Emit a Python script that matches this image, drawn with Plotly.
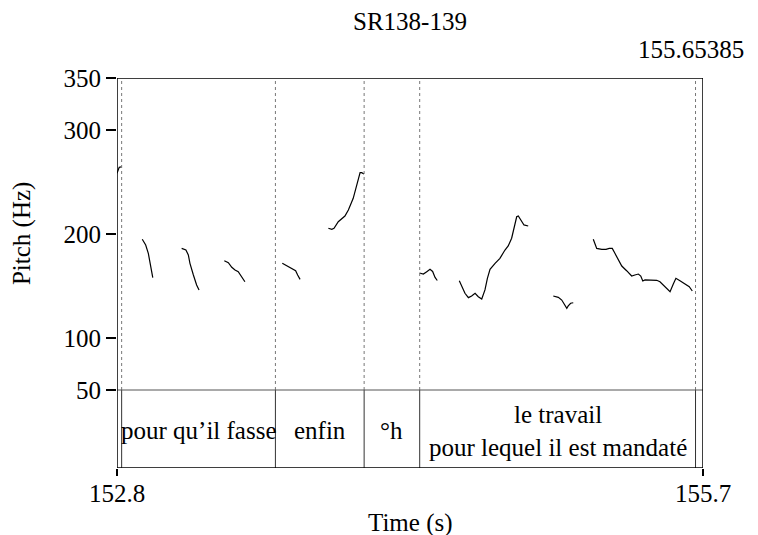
import plotly.graph_objects as go

# ---------------- data ----------------
title = "SR138-139"
x_range = [152.8, 155.7]
x_tick_vals = [152.8, 155.7]
x_tick_text = ["152.8", "155.7"]
y_tick_vals = [50, 100, 200, 300, 350]
y_tick_text = ["50", "100", "200", "300", "350"]
end_marker_label = "155.65385"

# tier boundaries (s)
boundaries = [152.823, 153.584, 154.023, 154.298, 155.663]
tier_labels = ["pour qu’il fasse", "enfin", "°h", "le travail<br>pour lequel il est mandaté"]

# pitch segments (time s, pitch Hz)
seg1_t = [152.800, 152.811, 152.823]
seg1_hz = [258.4, 264.1, 264.7]

seg2_t = [152.925, 152.942, 152.955, 152.963, 152.972, 152.977]
seg2_hz = [194.9, 189.4, 181.4, 173.4, 165.4, 158.0]

seg3_t = [153.120, 153.141, 153.153, 153.161, 153.178, 153.194, 153.206]
seg3_hz = [186.2, 184.6, 179.8, 171.8, 160.6, 151.0, 146.2]

seg4_t = [153.331, 153.351, 153.368, 153.384, 153.400, 153.417, 153.433]
seg4_hz = [174.3, 172.4, 168.0, 165.4, 163.8, 159.0, 154.1]

seg5_t = [153.618, 153.640, 153.665, 153.684, 153.694, 153.706]
seg5_hz = [171.8, 169.2, 167.0, 164.7, 160.6, 156.4]

seg6_t = [153.846, 153.863, 153.874, 153.895, 153.928, 153.945, 153.969, 153.986, 154.003, 154.011, 154.022]
seg6_hz = [205.5, 204.5, 205.5, 211.8, 217.3, 223.1, 234.3, 245.5, 259.0, 259.0, 257.7]

seg7_t = [154.297, 154.316, 154.333, 154.349, 154.362, 154.374, 154.385]
seg7_hz = [162.5, 161.5, 163.8, 166.0, 164.0, 158.2, 155.3]

seg8_t = [154.494, 154.506, 154.522, 154.539, 154.555, 154.572, 154.588, 154.605, 154.621, 154.633,
          154.646, 154.671, 154.695, 154.720, 154.736, 154.753, 154.766, 154.778, 154.786, 154.799,
          154.814, 154.835]
seg8_hz = [155.1, 150.0, 143.0, 138.8, 140.4, 143.0, 139.7, 137.5, 146.2, 157.4,
           166.0, 171.8, 176.6, 184.6, 188.5, 195.9, 207.0, 216.6, 217.3, 213.5,
           208.7, 207.7]

seg9_t = [154.959, 154.984, 155.001, 155.017, 155.026, 155.033, 155.045, 155.058]
seg9_hz = [140.4, 139.1, 136.5, 131.7, 128.6, 130.8, 133.4, 133.9]

seg10_t = [155.157, 155.166, 155.174, 155.199, 155.220, 155.236, 155.251, 155.264, 155.281, 155.298,
           155.322, 155.347, 155.363, 155.380, 155.392, 155.402, 155.413, 155.438, 155.471, 155.487,
           155.512, 155.537, 155.553, 155.566, 155.586, 155.611, 155.632, 155.647]
seg10_hz = [194.9, 189.4, 186.2, 185.3, 185.3, 186.2, 186.2, 181.4, 175.0, 169.2,
            164.7, 159.6, 160.6, 161.5, 159.6, 154.8, 155.8, 155.8, 155.5, 154.1,
            149.3, 144.5, 151.9, 157.4, 155.1, 151.9, 149.3, 145.2]

segments = [(seg1_t, seg1_hz), (seg2_t, seg2_hz), (seg3_t, seg3_hz), (seg4_t, seg4_hz),
            (seg5_t, seg5_hz), (seg6_t, seg6_hz), (seg7_t, seg7_hz), (seg8_t, seg8_hz),
            (seg9_t, seg9_hz), (seg10_t, seg10_hz)]

# ---------------- figure ----------------
FONT = "Liberation Serif"
FS = 25
Y_BOTTOM = -25   # bottom of text tier (below 50 Hz line)
Y_TOP = 350
Y_TIER = 50

fig = go.Figure()
for t, hz in segments:
    fig.add_trace(go.Scatter(x=t, y=hz, mode="lines",
                             line=dict(color="black", width=1.2),
                             showlegend=False, hoverinfo="skip"))

shapes = []
for b in boundaries:
    shapes.append(dict(type="line", xref="x", yref="y", x0=b, x1=b, y0=Y_TIER, y1=Y_TOP,
                       line=dict(color="#777777", width=1, dash="dot")))
    shapes.append(dict(type="line", xref="x", yref="y", x0=b, x1=b, y0=Y_BOTTOM, y1=Y_TIER,
                       line=dict(color="#333333", width=1)))
shapes.append(dict(type="line", xref="x", yref="y", x0=x_range[0], x1=x_range[1], y0=Y_TIER, y1=Y_TIER,
                   line=dict(color="#555555", width=1)))
shapes.append(dict(type="rect", xref="x", yref="y", x0=x_range[0], x1=x_range[1], y0=Y_BOTTOM, y1=Y_TOP,
                   line=dict(color="black", width=1.5)))
shapes.append(dict(type="line", xref="x", yref="y", x0=x_range[1], x1=x_range[1], y0=Y_TOP, y1=Y_TOP + 7,
                   line=dict(color="black", width=1.5)))

annotations = []
edges = boundaries
for i, lab in enumerate(tier_labels):
    xc = (edges[i] + edges[i + 1]) / 2
    annotations.append(dict(x=xc, y=(Y_BOTTOM + Y_TIER) / 2 - 1.5, xref="x", yref="y", text=lab,
                            showarrow=False, font=dict(family=FONT, size=FS, color="black"),
                            xanchor="center", yanchor="middle"))
annotations.append(dict(x=0.5, y=1.145, xref="paper", yref="paper", text=title, showarrow=False,
                        font=dict(family=FONT, size=FS, color="black"), xanchor="center", yanchor="middle"))
annotations.append(dict(x=1.074, y=1.072, xref="paper", yref="paper", text=end_marker_label,
                        showarrow=False, font=dict(family=FONT, size=FS, color="black"),
                        xanchor="right", yanchor="middle"))
annotations.append(dict(x=0.5, y=-0.141, xref="paper", yref="paper", text="Time (s)", showarrow=False,
                        font=dict(family=FONT, size=FS, color="black"), xanchor="center", yanchor="middle"))
annotations.append(dict(x=-0.162, y=0.6, xref="paper", yref="paper", text="Pitch (Hz)", showarrow=False,
                        textangle=-90, font=dict(family=FONT, size=FS, color="black"),
                        xanchor="center", yanchor="middle"))

# page body adds ~8px offset; compensate so the plot lands at x 117-703, y 78-468
fig.update_layout(
    width=758, height=535,
    margin=dict(l=109, r=63, t=70, b=75, autoexpand=False),
    paper_bgcolor="white", plot_bgcolor="white",
    font=dict(family=FONT, size=FS, color="black"),
    shapes=shapes, annotations=annotations,
    xaxis=dict(range=x_range, tickvals=x_tick_vals, ticktext=x_tick_text, automargin=False,
               showgrid=False, zeroline=False, showline=False,
               ticks="outside", ticklen=7, tickwidth=1.5, tickcolor="black",
               ticklabelstandoff=-4,
               tickfont=dict(family=FONT, size=FS, color="black")),
    yaxis=dict(range=[Y_BOTTOM, Y_TOP], tickvals=y_tick_vals, ticktext=y_tick_text, automargin=False,
               showgrid=False, zeroline=False, showline=False,
               ticks="outside", ticklen=10, tickwidth=1.5, tickcolor="black",
               tickfont=dict(family=FONT, size=FS, color="black")),
)

fig.write_html("out.html")
